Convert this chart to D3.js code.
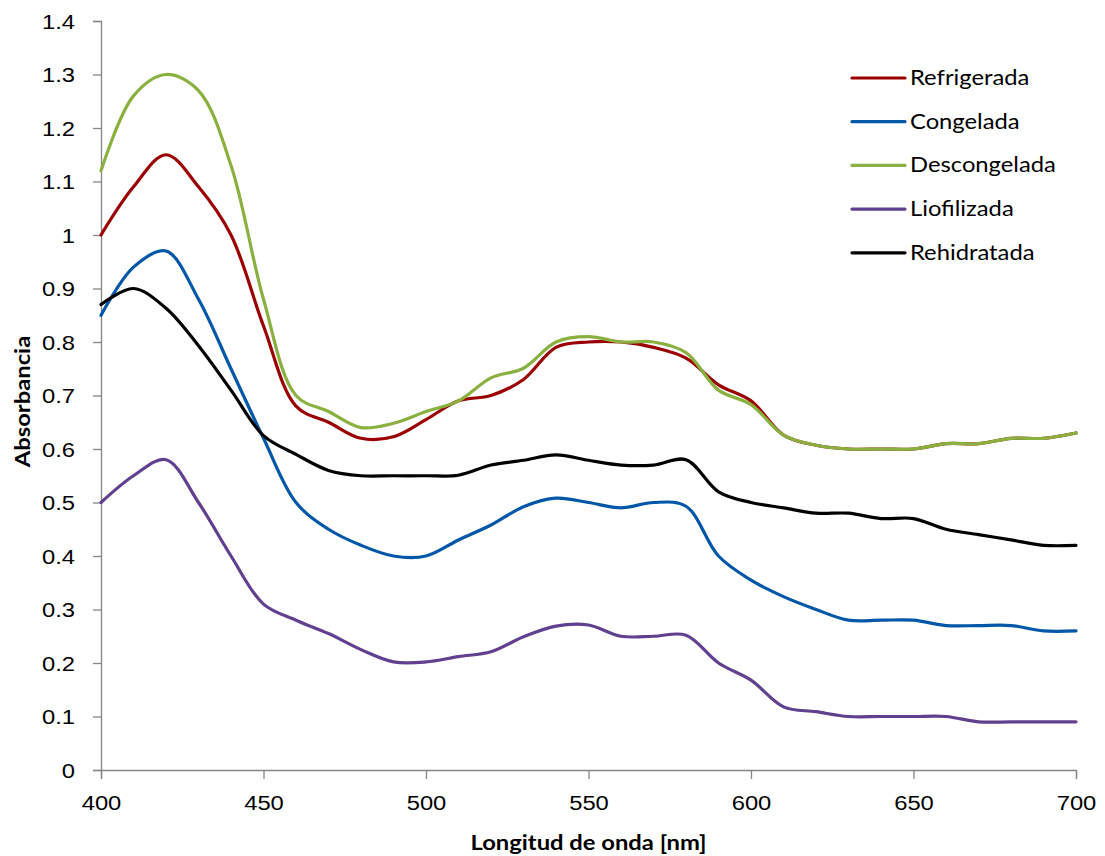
<!DOCTYPE html>
<html>
<head>
<meta charset="utf-8">
<script src="https://cdn.jsdelivr.net/npm/d3@7"></script>
<style>
  html, body { margin: 0; padding: 0; background: #fff; }
  svg { display: block; font-family: Lato, "Liberation Sans", sans-serif; }
</style>
</head>
<body>
<svg id="chart" width="1105" height="856"></svg>
<script>
// Wavelength grid (nm)
const wavelengths = [400,410,420,430,440,450,460,470,480,490,500,510,520,530,540,550,560,570,580,590,600,610,620,630,640,650,660,670,680,690,700];

// Absorbance per sample
const refrigerada = [1.00,1.09,1.15,1.09,1.00,0.83,0.68,0.65,0.62,0.623,0.655,0.69,0.70,0.73,0.79,0.80,0.80,0.79,0.77,0.72,0.69,0.626,0.607,0.60,0.60,0.60,0.61,0.61,0.62,0.62,0.63];
const congelada = [0.85,0.94,0.97,0.88,0.75,0.62,0.50,0.45,0.42,0.40,0.40,0.43,0.458,0.492,0.508,0.50,0.49,0.50,0.493,0.40,0.355,0.324,0.30,0.28,0.28,0.28,0.27,0.27,0.27,0.26,0.26];
const descongelada = [1.12,1.26,1.30,1.27,1.13,0.88,0.70,0.67,0.64,0.648,0.67,0.69,0.733,0.751,0.80,0.81,0.80,0.80,0.78,0.71,0.683,0.626,0.607,0.60,0.60,0.60,0.61,0.61,0.62,0.62,0.63];
const liofilizada = [0.50,0.55,0.58,0.50,0.40,0.31,0.28,0.255,0.225,0.202,0.202,0.212,0.221,0.249,0.269,0.271,0.25,0.25,0.252,0.20,0.168,0.118,0.109,0.10,0.10,0.10,0.10,0.09,0.09,0.09,0.09];
const rehidratada = [0.87,0.90,0.863,0.793,0.71,0.625,0.59,0.56,0.55,0.55,0.55,0.551,0.57,0.579,0.589,0.579,0.57,0.57,0.58,0.52,0.50,0.49,0.48,0.48,0.47,0.47,0.45,0.44,0.43,0.42,0.42];

const seriesNames = ["Refrigerada","Congelada","Descongelada","Liofilizada","Rehidratada"];
const seriesValues = [refrigerada, congelada, descongelada, liofilizada, rehidratada];
const seriesColors = ["#9b0000","#0057a8","#8ab040","#60408f","#000000"];

const xTicks = [400,450,500,550,600,650,700];
const yTicks = [0,0.1,0.2,0.3,0.4,0.5,0.6,0.7,0.8,0.9,1,1.1,1.2,1.3,1.4];

const svg = d3.select("#chart");
const plot = { left: 101, right: 1076, top: 21, bottom: 770 };

const x = d3.scaleLinear().domain([400, 700]).range([plot.left, plot.right]);
const y = d3.scaleLinear().domain([0, 1.4]).range([plot.bottom, plot.top]);

const axisColor = "#868686";
const fontSize = 20.5;
const stretch = 1.16; // wide Calibri-like lettering

// Y axis
const yAxis = svg.append("g")
  .attr("transform", `translate(${plot.left},0)`)
  .call(d3.axisLeft(y).tickValues(yTicks).tickSize(8)
    .tickFormat(d => d3.format("~g")(d)));
yAxis.select(".domain").attr("stroke", axisColor).attr("stroke-width", 1.3);
yAxis.selectAll(".tick line").attr("stroke", axisColor).attr("stroke-width", 1.3);
yAxis.selectAll(".tick text")
  .attr("x", null).attr("dy", "0.35em")
  .attr("transform", `translate(-26,0) scale(${stretch},1)`)
  .attr("font-size", fontSize).attr("fill", "#000");

// X axis
const xAxis = svg.append("g")
  .attr("transform", `translate(0,${plot.bottom})`)
  .call(d3.axisBottom(x).tickValues(xTicks).tickSize(9));
xAxis.select(".domain").attr("stroke", axisColor).attr("stroke-width", 1.3);
xAxis.selectAll(".tick line").attr("stroke", axisColor).attr("stroke-width", 1.3);
xAxis.selectAll(".tick text")
  .attr("y", null).attr("dy", null)
  .attr("transform", `translate(0,40) scale(${stretch},1)`)
  .attr("font-size", fontSize).attr("fill", "#000");

// Axis titles
svg.append("text")
  .attr("transform", `translate(${(plot.left + plot.right) / 2},850) scale(${stretch},1)`)
  .attr("text-anchor", "middle")
  .attr("font-size", fontSize).attr("font-weight", "bold")
  .text("Longitud de onda [nm]");

svg.append("text")
  .attr("transform", `translate(30,${(plot.top + plot.bottom) / 2 + 6}) rotate(-90) scale(${stretch},1)`)
  .attr("text-anchor", "middle")
  .attr("font-size", fontSize).attr("font-weight", "bold")
  .text("Absorbancia");

// Smoothed spectra
const line = d3.line()
  .x((d, i) => x(wavelengths[i]))
  .y(d => y(d))
  .curve(d3.curveCatmullRom.alpha(0.5));

svg.append("g").selectAll("path")
  .data(seriesValues)
  .join("path")
  .attr("d", d => line(d))
  .attr("fill", "none")
  .attr("stroke", (d, i) => seriesColors[i])
  .attr("stroke-width", 3.2)
  .attr("stroke-linejoin", "round")
  .attr("stroke-linecap", "round");

// Legend
const legend = svg.append("g").attr("transform", "translate(852,78)");
const item = legend.selectAll("g")
  .data(seriesNames)
  .join("g")
  .attr("transform", (d, i) => `translate(0,${i * 43.7})`);
item.append("line")
  .attr("x1", 0).attr("x2", 53)
  .attr("y1", 0).attr("y2", 0)
  .attr("stroke", (d, i) => seriesColors[i])
  .attr("stroke-width", 3.2)
  .attr("stroke-linecap", "round");
item.append("text")
  .attr("transform", `translate(58,7) scale(${stretch},1)`)
  .attr("font-size", fontSize).attr("fill", "#000")
  .text(d => d);
</script>
</body>
</html>
